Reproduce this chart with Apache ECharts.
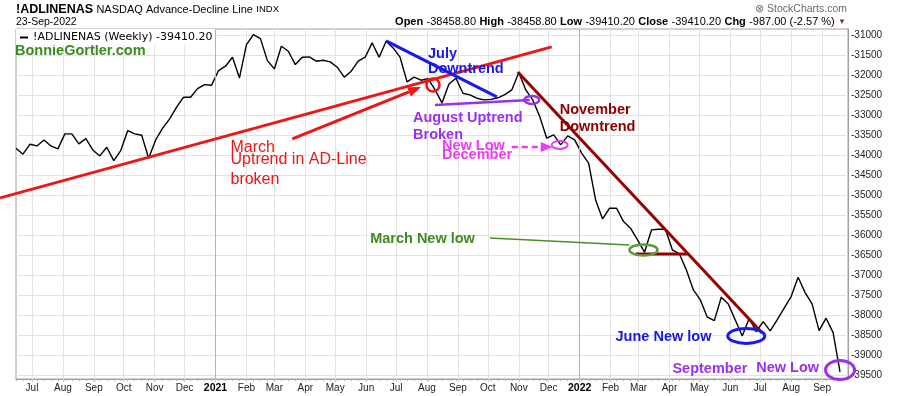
<!DOCTYPE html>
<html><head><meta charset="utf-8">
<script src="https://cdn.jsdelivr.net/npm/echarts@6/dist/echarts.min.js"></script>
<style>html,body{margin:0;padding:0;background:#fff}#c{width:900px;height:396px}</style>
</head><body><div id="c"></div>
<script>
// ---------- data ----------
const firstWeek = '2020-06-15';          // week of (Monday) for first weekly value
const axisStart = '2020-06-15';
const axisEnd = '2022-09-27';
const adlValues = [
-33820,-33970,-33720,-33763,-33613,-33763,-33838,-33463,-33463,-33713,
-33580,-33863,-34013,-33795,-34130,-33880,-33380,-33463,-33495,-34070,
-33613,-33320,-33088,-32795,-32545,-32545,-32330,-32230,-32245,-31880,
-31770,-31545,-32063,-31230,-30980,-31080,-31630,-31838,-31270,-31395,
-31730,-31545,-31538,-31645,-31620,-31663,-31795,-32045,-31895,-31645,
-31545,-31188,-31545,-31145,-31313,-31545,-32163,-32045,-32120,-32080,
-32355,-32688,-32213,-32070,-32445,-32488,-32570,-32613,-32600,-32560,
-32480,-32363,-31930,-32363,-32613,-33030,-33570,-33488,-33738,-33513,
-33613,-33945,-34195,-35113,-35588,-35320,-35320,-35655,-35820,-36113,
-36420,-35863,-35845,-35845,-36363,-36463,-36863,-37363,-37613,-38045,
-38130,-37545,-37713,-38113,-38513,-38070,-38405,-38155,-38388,-38113,
-37820,-37530,-37045,-37430,-37713,-38380,-38070,-38423.2,-39410.2
];
const monthTicks = ['2020-07-01','2020-08-01','2020-09-01','2020-10-01','2020-11-01','2020-12-01',
'2021-01-01','2021-02-01','2021-03-01','2021-04-01','2021-05-01','2021-06-01','2021-07-01','2021-08-01',
'2021-09-01','2021-10-01','2021-11-01','2021-12-01','2022-01-01','2022-02-01','2022-03-01','2022-04-01',
'2022-05-01','2022-06-01','2022-07-01','2022-08-01','2022-09-01'];
const monthNames = ['Jan','Feb','Mar','Apr','May','Jun','Jul','Aug','Sep','Oct','Nov','Dec'];
const yearLines = ['2021-01-01','2022-01-01'];
const yTicks = [-39500,-39000,-38500,-38000,-37500,-37000,-36500,-36000,-35500,-35000,
-34500,-34000,-33500,-33000,-32500,-32000,-31500,-31000];

// ---------- annotations (data coordinates) ----------
const trendLines = [
  {from:['2020-05-30',-35063], to:['2021-12-04',-31288], color:'#f21414', width:3},
  {from:['2021-06-21',-31138], to:['2021-10-10',-32538], color:'#1717f0', width:3},
  {from:['2021-08-09',-32738], to:['2021-11-12',-32613], color:'#9b30f0', width:2.5},
  {from:['2021-10-31',-31913], to:['2022-07-03',-38438], color:'#960000', width:3},
  {from:['2022-02-26',-36463], to:['2022-04-19',-36463], color:'#960000', width:3},
  {from:['2021-10-03',-36063], to:['2022-02-20',-36238], color:'#4d8c2c', width:1.5}
];
const arrows = [
  {from:['2021-03-19',-33588], to:['2021-07-26',-32288], color:'#f21414', width:3, head:13, headW:10, dash:null},
  {from:['2021-10-25',-33788], to:['2021-12-05',-33788], color:'#f03cf0', width:2.5, head:12, headW:10, dash:[6,4]}
];
const rings = [
  {at:['2021-08-07',-32238], rx:6.5, ry:6.5, color:'#f21414', width:2.5},
  {at:['2021-11-14',-32613], rx:7.5, ry:4, color:'#9b30f0', width:2.5},
  {at:['2021-12-12',-33738], rx:8, ry:4, color:'#f03cf0', width:2},
  {at:['2022-03-06',-36363], rx:14, ry:5.5, color:'#5a9a3a', width:2.5},
  {at:['2022-06-17',-38513], rx:18.5, ry:7.5, color:'#1717f0', width:3},
  {at:['2022-09-19',-39363], rx:14.5, ry:9.5, color:'#9b30f0', width:3}
];
const notes = [
  {at:['2021-01-16',-33943], text:'March', color:'#f21414', size:16, bold:false},
  {at:['2021-01-16',-34233], text:'Uptrend in AD-Line', color:'#f21414', size:16, bold:false},
  {at:['2021-01-16',-34738], text:'broken', color:'#f21414', size:16, bold:false},
  {at:['2021-08-02',-31600], text:'July', color:'#1717f0', size:14.5, bold:true},
  {at:['2021-08-02',-31975], text:'Downtrend', color:'#1717f0', size:14.5, bold:true},
  {at:['2021-07-18',-33200], text:'August Uptrend', color:'#9b30f0', size:14.5, bold:true},
  {at:['2021-07-18',-33625], text:'Broken', color:'#9b30f0', size:14.5, bold:true},
  {at:['2021-12-12',-33000], text:'November', color:'#8b0000', size:14.5, bold:true},
  {at:['2021-12-12',-33413], text:'Downtrend', color:'#8b0000', size:14.5, bold:true},
  {at:['2021-08-16',-33880], text:'New Low', color:'#f03cf0', size:14.5, bold:true},
  {at:['2021-08-16',-34113], text:'December', color:'#f03cf0', size:14.5, bold:true},
  {at:['2021-06-05',-36213], text:'March New low', color:'#3f8b22', size:14.5, bold:true},
  {at:['2022-02-06',-38655], text:'June New low', color:'#1717f0', size:14.5, bold:true},
  {at:['2022-04-04',-39463], text:'September', color:'#9b30f0', size:14.5, bold:true},
  {at:['2022-06-27',-39438], text:'New Low', color:'#9b30f0', size:14.5, bold:true}
];

// ---------- build ----------
function ts(s){const p=s.split('-').map(Number);return new Date(p[0],p[1]-1,p[2]).getTime();}
const fw = firstWeek.split('-').map(Number);
const weekTs = adlValues.map((_,i)=>new Date(fw[0],fw[1]-1,fw[2]+7*i).getTime());
const seriesData = adlValues.map((v,i)=>[weekTs[i], v]);
const monthTs = monthTicks.map(ts);
const FONT = '"Liberation Sans", Arial, sans-serif';
const lastVal = adlValues[adlValues.length-1];

const chart = echarts.init(document.getElementById('c'), null, {renderer:'canvas'});
chart.setOption({
  animation:false,
  backgroundColor:'#fff',
  grid:{left:16, right:52, top:29, bottom:17, show:true, borderColor:'#a0a0a0', borderWidth:1, outerBoundsMode:'none', containLabel:false},
  legend:{left:16, top:29, padding:[3,4,2,4], itemWidth:8, itemHeight:2, icon:'rect', backgroundColor:'#fff',
    textStyle:{fontFamily:'"DejaVu Sans", Verdana, sans-serif', fontSize:11, color:'#000'},
    formatter:()=>'!ADLINENAS (Weekly) ' + lastVal.toFixed(2), data:['!ADLINENAS'], selectedMode:false},
  xAxis:[{
    type:'value', min:ts(axisStart), max:ts(axisEnd), scale:true,
    axisLine:{show:true, onZero:false, lineStyle:{color:'#a0a0a0'}},
    axisTick:{show:true, customValues:monthTs, length:3, lineStyle:{color:'#c8c8c8'}},
    axisLabel:{customValues:monthTs, fontFamily:FONT, fontSize:10, color:'#222', margin:4,
      formatter:(v)=>{const d=new Date(v); return d.getMonth()===0 ? '{yr|'+d.getFullYear()+'}' : monthNames[d.getMonth()];},
      rich:{yr:{fontFamily:FONT, fontSize:10.5, fontWeight:'bold', color:'#000'}}},
    splitLine:{show:true, lineStyle:{color:'#e2e2e2', width:1}}
  },{
    type:'value', min:ts(axisStart), max:ts(axisEnd), scale:true, position:'bottom',
    axisLine:{show:false, onZero:false}, axisLabel:{show:false}, splitLine:{show:false},
    axisTick:{show:true, customValues:weekTs, length:2, lineStyle:{color:'#b0b0b0'}}
  }],
  yAxis:{type:'value', position:'right', min:-39590, max:-30840,
    axisLine:{show:true, onZero:false, lineStyle:{color:'#a0a0a0'}},
    axisTick:{show:false, customValues:yTicks},
    axisLabel:{customValues:yTicks, fontFamily:FONT, fontSize:10, color:'#222', margin:3, formatter:(v)=>String(v)},
    splitLine:{show:true, lineStyle:{color:'#e2e2e2', width:1}}
  },
  series:[{
    name:'!ADLINENAS', type:'line', xAxisIndex:0, yAxisIndex:0, data:seriesData, symbol:'none', showSymbol:false,
    lineStyle:{color:'#000', width:1.4}, itemStyle:{color:'#000'}, z:3,
    markLine:{silent:true, symbol:'none', label:{show:false}, lineStyle:{color:'#b4b4b4', type:'solid', width:1},
      data:yearLines.map(s=>({xAxis:ts(s)}))}
  }]
});

const g = [];
g.push({type:'text', x:16, y:9.5, style:{text:'{b|!ADLINENAS} {n|NASDAQ Advance-Decline Line} {s|INDX}', verticalAlign:'middle', align:'left',
  rich:{b:{fontFamily:FONT, fontSize:12.5, fontWeight:'bold', fill:'#000'}, n:{fontFamily:FONT, fontSize:11, fill:'#000'}, s:{fontFamily:FONT, fontSize:9.5, fill:'#000'}}}});
g.push({type:'text', x:16, y:22.3, style:{text:'23-Sep-2022', font:'10.5px '+FONT, fill:'#000', verticalAlign:'middle', align:'left'}});
g.push({type:'text', x:847, y:9, style:{text:'⊗ StockCharts.com', font:'10.5px '+FONT, fill:'#6a6a6a', verticalAlign:'middle', align:'right'}});
g.push({type:'text', x:846, y:21.8, style:{
  text:'{l|Open} {v|-38458.80} {l|High} {v|-38458.80} {l|Low} {v|-39410.20} {l|Close} {v|-39410.20} {l|Chg} {v|-987.00 (-2.57 %)} {t|▼}',
  verticalAlign:'middle', align:'right',
  rich:{l:{fontFamily:FONT, fontSize:11, fontWeight:'bold', fill:'#000'}, v:{fontFamily:FONT, fontSize:11, fill:'#000'}, t:{fontFamily:FONT, fontSize:8, fill:'#8b3030'}}}});
g.push({type:'text', x:15, y:51, style:{text:'BonnieGortler.com', font:'bold 14.5px '+FONT, fill:'#3a8c1f', verticalAlign:'middle', align:'left'}});

function px(p){ return chart.convertToPixel({seriesIndex:0}, [ts(p[0]), p[1]]); }
trendLines.forEach(l=>{const a=px(l.from), b=px(l.to);
  g.push({type:'line', z:100, silent:true, shape:{x1:a[0],y1:a[1],x2:b[0],y2:b[1]}, style:{stroke:l.color, lineWidth:l.width}});});
arrows.forEach(l=>{const a=px(l.from), b=px(l.to);
  const ang=Math.atan2(b[1]-a[1], b[0]-a[0]); const bx=b[0]-l.head*Math.cos(ang), by=b[1]-l.head*Math.sin(ang);
  const nx=-Math.sin(ang), ny=Math.cos(ang), W=l.headW/2;
  g.push({type:'line', z:100, silent:true, shape:{x1:a[0],y1:a[1],x2:bx,y2:by}, style:{stroke:l.color, lineWidth:l.width, lineDash:l.dash}});
  g.push({type:'polygon', z:100, silent:true, shape:{points:[[b[0],b[1]],[bx+nx*W,by+ny*W],[bx-nx*W,by-ny*W]]}, style:{fill:l.color}});});
rings.forEach(r=>{const c=px(r.at);
  g.push({type:'ellipse', z:101, silent:true, shape:{cx:c[0],cy:c[1],rx:r.rx,ry:r.ry}, style:{fill:null, stroke:r.color, lineWidth:r.width}});});
notes.forEach(n=>{const p=px(n.at);
  g.push({type:'text', z:102, silent:true, x:p[0], y:p[1]-0.35*n.size, style:{text:n.text, fill:n.color,
    font:(n.bold?'bold ':'')+n.size+'px '+FONT, align:'left', verticalAlign:'middle'}});});
chart.setOption({graphic:g});
</script></body></html>
